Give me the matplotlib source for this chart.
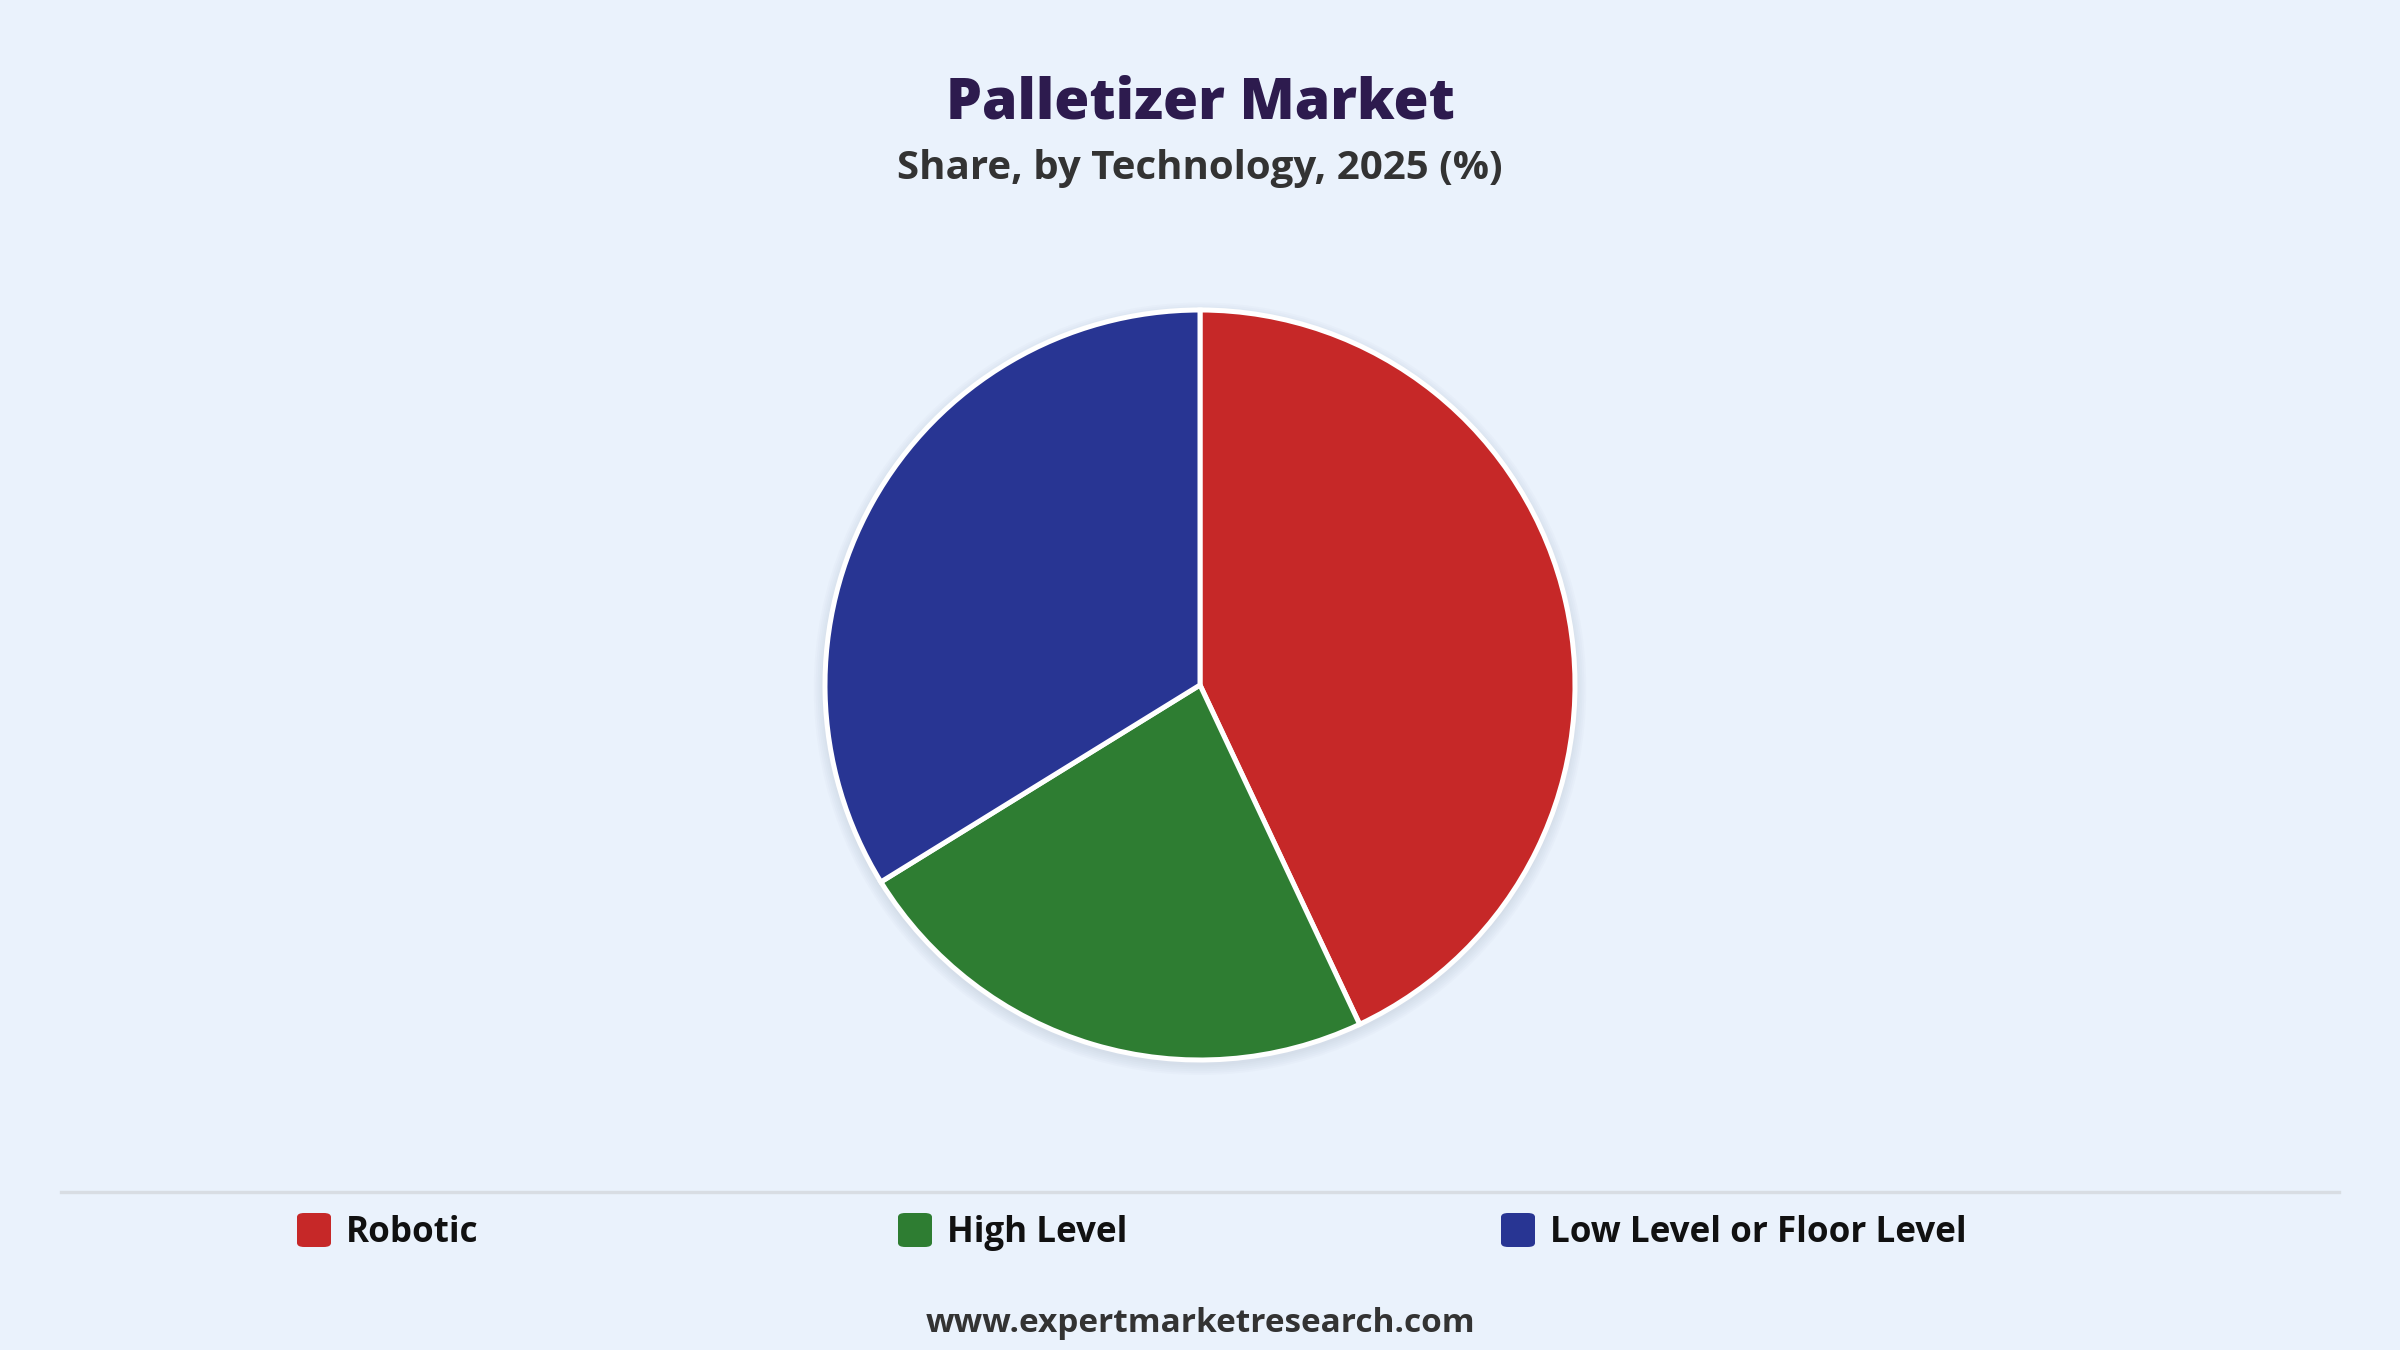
import matplotlib.pyplot as plt
from matplotlib.patches import FancyBboxPatch, Circle
from matplotlib.lines import Line2D

# data
categories = ['Robotic', 'High Level', 'Low Level or Floor Level']
shares = [43.0, 23.2, 33.8]
colors = ['#c62828', '#2e7d32', '#283593']

bg = '#eaf2fc'
plt.rcParams['font.family'] = ['Open Sans', 'DejaVu Sans']

fig = plt.figure(figsize=(12, 6.75), dpi=200, facecolor=bg)

# pie axes: centre (1200, 685) px, radius ~375 px
W, H = 2400, 1350
r = 375
cx, cy = 1200, 685
ax = fig.add_axes([(cx - r) / W, 1 - (cy + r) / H, 2 * r / W, 2 * r / H])
ax.set_facecolor(bg)
ax.axis('off')

# soft shadow under the pie
for i in range(6):
    ax.add_patch(Circle((0.0, -0.01), 1.0 + 0.005 * (i + 1), color='#9aa8b8',
                        alpha=0.045, lw=0, zorder=0, clip_on=False))

wedges, _ = ax.pie(shares, colors=colors, startangle=90, counterclock=False, radius=1.0,
                   wedgeprops=dict(edgecolor='white', linewidth=1.8), frame=False)
for w in wedges:
    w.set_clip_on(False)
ax.set_xlim(-1.0, 1.0)
ax.set_ylim(-1.0, 1.0)
ax.set_aspect('equal')

# titles
fig.text(0.5, 1 - 104 / H, 'Palletizer Market', ha='center', va='center',
         fontsize=20.5, fontweight='heavy', color='#2d1b4e')
fig.text(0.5, 1 - 168 / H, 'Share, by Technology, 2025 (%)', ha='center', va='center',
         fontsize=14.5, fontweight='bold', color='#333333')

# separator line
fig.add_artist(Line2D([61 / W, 2339 / W], [1 - 1192 / H, 1 - 1192 / H],
                      color='#d8dde3', lw=1.2))

# legend
leg_x = [297, 898, 1501]
ly = 1230
sq = 34
for x, name, c in zip(leg_x, categories, colors):
    fig.add_artist(FancyBboxPatch((x / W, 1 - (ly + sq / 2) / H), sq / W, sq / H,
                                  boxstyle='round,pad=0,rounding_size=0.003',
                                  transform=fig.transFigure, fc=c, ec='none'))
    fig.text((x + sq + 15) / W, 1 - (ly + 3) / H, name, ha='left', va='center',
             fontsize=12.6, fontweight='bold', color='#111111')

fig.text(0.5, 1 - 1323 / H, 'www.expertmarketresearch.com', ha='center', va='center',
         fontsize=12, fontweight='bold', color='#333333')

fig.savefig('out.png', dpi=200, facecolor=bg)
